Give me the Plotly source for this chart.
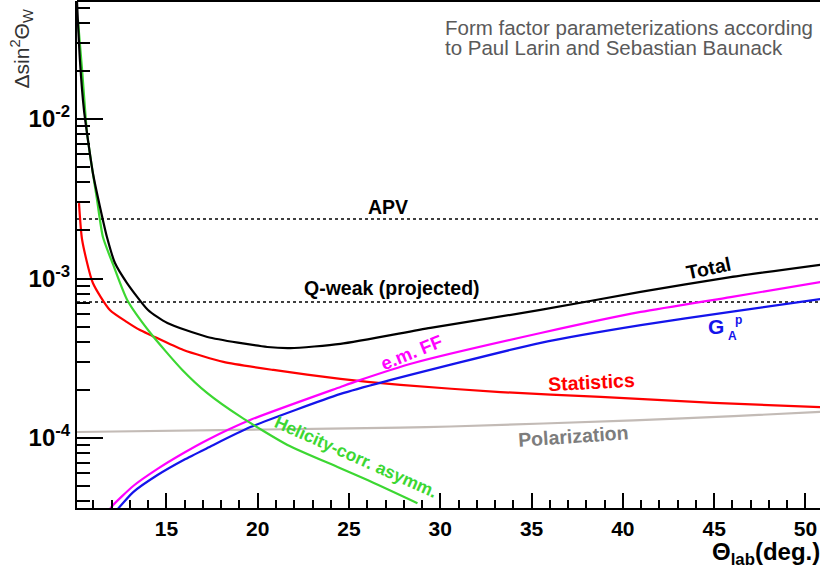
import plotly.graph_objects as go
import numpy as np

# ---------------- data ----------------
theta_total = [10.1, 10.26, 10.48, 10.7, 10.97, 11.36, 11.74, 12.18, 12.84, 13.99, 15.05,
               17.24, 20.53, 21.79, 24.53, 29.46, 35.49, 40.97, 45.9, 50.83]
total = [5.45e-2, 2.34e-2, 1.14e-2, 7.4e-3, 4.59e-3, 2.81e-3, 1.82e-3, 1.25e-3, 9.37e-4, 6.35e-4,
         5.26e-4, 4.3e-4, 3.72e-4, 3.66e-4, 3.89e-4, 4.9e-4, 6.35e-4, 8.24e-4, 1.02e-3, 1.22e-3]

theta_hel = [10.15, 10.38, 10.65, 10.92, 11.2, 11.52, 12.08, 12.85, 14.12, 15.87, 17.24,
             19.05, 21.63, 24.37, 26.01, 28.75]
helicity = [4.18e-2, 2.03e-2, 8.17e-3, 4.97e-3, 3.1e-3, 1.82e-3, 1.22e-3, 7.33e-4, 4.55e-4,
            2.67e-4, 1.91e-4, 1.36e-4, 9.04e-5, 6.58e-5, 5.45e-5, 3.9e-5]

theta_stat = [10.21, 10.38, 10.97, 11.9, 12.84, 13.55, 14.12, 15.93, 18.12, 20.86, 24.53,
              27.82, 33.3, 38.78, 44.97, 50.83]
statistics = [2.97e-3, 1.75e-3, 9.37e-4, 6.35e-4, 5.33e-4, 4.75e-4, 4.43e-4, 3.56e-4, 3.0e-4,
              2.67e-4, 2.35e-4, 2.15e-4, 1.94e-4, 1.81e-4, 1.66e-4, 1.56e-4]

theta_pol = [10.1, 20.5, 27.82, 30.56, 40.6, 46.07, 50.83]
polarization = [1.09e-4, 1.13e-4, 1.16e-4, 1.18e-4, 1.29e-4, 1.37e-4, 1.46e-4]

theta_em = [11.9, 12.08, 13.18, 14.51, 15.94, 17.24, 19.61, 24.54, 25.47, 28.54, 35.5,
            40.98, 45.9, 50.84]
em_ff = [3.58e-5, 3.8e-5, 5.0e-5, 6.4e-5, 8.05e-5, 9.72e-5, 1.30e-4, 2.09e-4, 2.28e-4,
         2.95e-4, 4.55e-4, 6.17e-4, 7.65e-4, 9.5e-4]

theta_ga = [12.3, 13.18, 14.51, 15.94, 17.24, 19.6, 24.54, 26.9, 35.5, 40.98, 45.9, 50.84]
ga_p = [3.55e-5, 4.58e-5, 5.86e-5, 7.28e-5, 8.65e-5, 1.17e-4, 1.89e-4, 2.25e-4, 3.95e-4,
        5.1e-4, 6.17e-4, 7.43e-4]

theta_ref = [10.1, 50.8]
apv_level = [2.36e-3, 2.36e-3]
qweak_level = [7.13e-4, 7.13e-4]

x_tick_vals = [15, 20, 25, 30, 35, 40, 45, 50]
y_tick_vals = [1e-4, 1e-3, 1e-2]
y_tick_text = ["10<sup>-4</sup>", "10<sup>-3</sup>", "10<sup>-2</sup>"]

# ---------------- styles ----------------
FONT = "Liberation Sans"
GREEN = "rgb(60,215,50)"
RED = "rgb(255,0,0)"
MAGENTA = "rgb(255,0,255)"
BLUE = "rgb(20,20,235)"
GRAYLINE = "rgb(195,187,182)"
GRAYTXT = "rgb(125,125,125)"

fig = go.Figure()

def add_line(x, y, color, width=2.2, dash="solid", shape="spline"):
    fig.add_trace(go.Scatter(x=x, y=y, mode="lines",
                             line=dict(color=color, width=width, dash=dash, shape=shape,
                                       smoothing=0.6 if shape == "spline" else None),
                             hoverinfo="skip", showlegend=False))

add_line(theta_ref, apv_level, "black", width=1.6, dash="dot", shape="linear")
add_line(theta_ref, qweak_level, "black", width=1.6, dash="dot", shape="linear")
add_line(theta_pol, polarization, GRAYLINE)
add_line(theta_stat, statistics, RED)
add_line(theta_em, em_ff, MAGENTA)
add_line(theta_ga, ga_p, BLUE)
add_line(theta_hel, helicity, GREEN)
add_line(theta_total, total, "black")

# minor ticks for log axis
minor_y = [m * 10.0 ** e for e in (-5, -4, -3, -2) for m in range(2, 10)]

fig.update_layout(
    width=820, height=577,
    margin=dict(l=77, r=0, t=1, b=69, autoexpand=False),
    paper_bgcolor="white", plot_bgcolor="white",
    font=dict(family=FONT, color="black"),
    xaxis=dict(range=[10.1, 50.8], tickmode="array", tickvals=x_tick_vals,
               ticks="inside", ticklen=15, tickwidth=2, tickcolor="black",
               showline=True, linewidth=2, linecolor="black",
               showgrid=False, zeroline=False,
               tickfont=dict(family=FONT, size=21, weight="bold", color="black"),
               ticklabelstandoff=1,
               minor=dict(dtick=1, tick0=0, ticks="inside", ticklen=8, tickwidth=2,
                          tickcolor="black", showgrid=False)),
    yaxis=dict(type="log", range=[-4.439, -1.26], tickmode="array",
               tickvals=y_tick_vals, ticktext=y_tick_text,
               ticks="inside", ticklen=26, tickwidth=2, tickcolor="black",
               showline=True, linewidth=2, linecolor="black",
               showgrid=False, zeroline=False,
               tickfont=dict(family=FONT, size=24, weight="bold", color="black"),
               minor=dict(tickmode="array", tickvals=minor_y, ticks="inside", ticklen=13,
                          tickwidth=2, tickcolor="black", showgrid=False)),
)

# top frame line
fig.add_shape(type="line", xref="paper", yref="paper", x0=0, x1=1, y0=1, y1=1,
              line=dict(color="black", width=2))

def label(text, x, y, color, size=19.5, angle=0, bold=True, xref="x", yref="y",
          xanchor="center", yanchor="middle"):
    fig.add_annotation(text=text, x=x, y=y, xref=xref, yref=yref, showarrow=False,
                       textangle=angle, xanchor=xanchor, yanchor=yanchor,
                       font=dict(family=FONT, size=size, color=color,
                                 weight="bold" if bold else "normal"))

label("APV", 27.14, -2.552, "black")
label("Q-weak (projected)", 27.36, -3.059, "black")
label("Total", 44.7, -2.934, "black", angle=-12)
label("G", 45.13, -3.298, BLUE, size=21)
label("A", 46.0, -3.36, BLUE, size=12)
label("p", 46.33, -3.262, BLUE, size=12)
label("e.m. FF", 28.4, -3.461, MAGENTA, size=18.5, angle=-22)
label("Statistics", 38.28, -3.649, RED, angle=-3)
label("Polarization", 37.29, -3.987, GRAYTXT, angle=-4)
label("Helicity-corr. asymm.", 25.4, -4.119, GREEN, size=17.5, angle=24)

label("Form factor parameterizations according", 0.4926, 0.9487, "rgb(90,90,90)",
      size=20.5, bold=False, xref="paper", yref="paper", xanchor="left")
label("to Paul Larin and Sebastian Baunack", 0.4926, 0.9073, "rgb(90,90,90)",
      size=20.5, bold=False, xref="paper", yref="paper", xanchor="left")

label("Δsin<sup>2</sup>Θ<sub>W</sub>", -0.075, 0.905, "rgb(50,50,50)", size=21, angle=-90,
      bold=False, xref="paper", yref="paper")
label("Θ<sub>lab</sub>(deg.)", 1.003, -0.089, "black", size=24, xref="paper",
      yref="paper", xanchor="right")

fig.write_html("out.html", config={"displayModeBar": False},
               post_script="document.body.style.margin='0';document.body.style.padding='0';")
